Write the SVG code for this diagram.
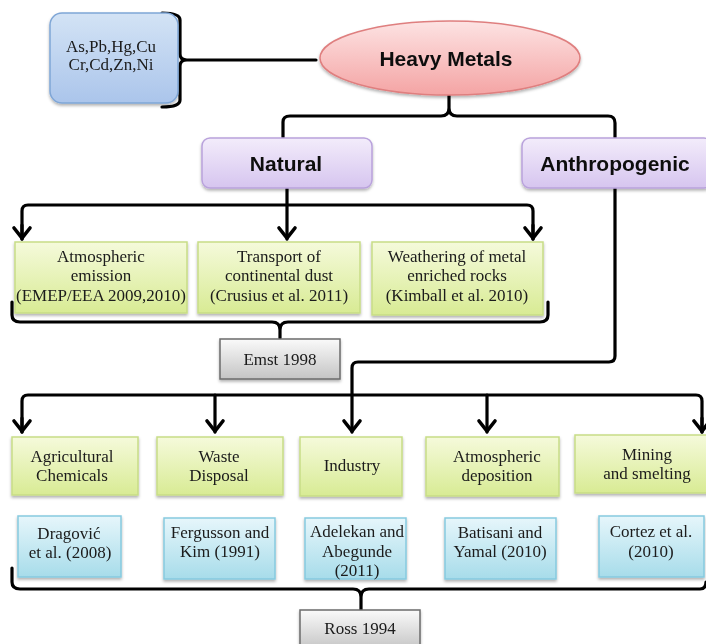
<svg xmlns="http://www.w3.org/2000/svg" width="706" height="644" viewBox="0 0 706 644">
<style>
.s{font-family:"Liberation Serif","Times New Roman",serif;font-size:17px;fill:#1a1a1a;text-anchor:middle}
.b{font-family:"Liberation Sans",Arial,sans-serif;font-size:21px;font-weight:bold;fill:#111;text-anchor:middle}
.c{fill:none;stroke:#000;stroke-width:3.2;stroke-linejoin:round;stroke-linecap:round}
.green{fill:url(#gG);stroke:#c7dd86;stroke-width:1.5}
.blue{fill:url(#gB);stroke:#86cadf;stroke-width:1.5}
.gray{fill:url(#gR);stroke:#6b6b6b;stroke-width:1.5}
.purple{fill:url(#gP);stroke:#b9a2dc;stroke-width:1.5}
</style>
<defs>
<linearGradient id="gG" x1="0" y1="0" x2="0" y2="1"><stop offset="0" stop-color="#f5fadb"/><stop offset="1" stop-color="#d8eb94"/></linearGradient>
<linearGradient id="gB" x1="0" y1="0" x2="0" y2="1"><stop offset="0" stop-color="#e6f6fb"/><stop offset="1" stop-color="#a7dcea"/></linearGradient>
<linearGradient id="gR" x1="0" y1="0" x2="0" y2="1"><stop offset="0" stop-color="#fafafa"/><stop offset="1" stop-color="#c4c4c4"/></linearGradient>
<linearGradient id="gP" x1="0" y1="0" x2="0" y2="1"><stop offset="0" stop-color="#f3ecfb"/><stop offset="1" stop-color="#d6c5ef"/></linearGradient>
<linearGradient id="gM" x1="0" y1="0" x2="0" y2="1"><stop offset="0" stop-color="#d3e3f5"/><stop offset="1" stop-color="#abc5eb"/></linearGradient>
<linearGradient id="gE" x1="0" y1="0" x2="0" y2="1"><stop offset="0" stop-color="#fde3e3"/><stop offset="1" stop-color="#f4a4a4"/></linearGradient>
<filter id="sh" x="-10%" y="-10%" width="130%" height="140%"><feDropShadow dx="0" dy="2" stdDeviation="1.5" flood-color="#000" flood-opacity="0.3"/></filter>
<marker id="ar" markerUnits="userSpaceOnUse" markerWidth="30" markerHeight="30" viewBox="-15 -15 30 30" refX="0" refY="0" orient="auto">
<path d="M-11,-8 L-1,0 L-11,8" fill="none" stroke="#000" stroke-width="3.6" stroke-linecap="round" stroke-linejoin="miter"/>
</marker>
</defs>

<g id="connectors">
<path class="c" d="M162,13 Q180,13 180,20 L180,54 Q180,60 187,60 L316,60 M187,60 Q180,60 180,66 L180,100 Q180,107 162,107"/>
<path class="c" d="M283,138 L283,122 Q283,116 290,116 L441,116 Q449,116 449,108 L449,95 M449,108 Q449,116 457,116 L608,116 Q615,116 615,123 L615,138"/>
<path class="c" d="M287,188 L287,239" marker-end="url(#ar)"/>
<path class="c" d="M22,239 L22,211 Q22,205 28,205 L527,205 Q533,205 533,211 L533,239"/>
<path class="c" d="M22,225 L22,239" marker-end="url(#ar)"/>
<path class="c" d="M533,225 L533,239" marker-end="url(#ar)"/>
<path class="c" d="M12,302 L12,315 Q12,322 20,322 L272,322 Q280,322 280,330 L280,338 M280,330 Q280,322 288,322 L540,322 Q548,322 548,315 L548,302"/>
<path class="c" d="M615,188 L615,356 Q615,362 609,362 L358,362 Q352,362 352,368 L352,432" marker-end="url(#ar)"/>
<path class="c" d="M22,432 L22,401 Q22,395 28,395 L696,395 Q702,395 702,401 L702,432"/>
<path class="c" d="M22,418 L22,432" marker-end="url(#ar)"/>
<path class="c" d="M702,418 L702,432" marker-end="url(#ar)"/>
<path class="c" d="M215,395 L215,432" marker-end="url(#ar)"/>
<path class="c" d="M487,395 L487,432" marker-end="url(#ar)"/>
<path class="c" d="M12,568 L12,582 Q12,589 20,589 L353,589 Q361,589 361,597 L361,610 M361,597 Q361,589 369,589 L700,589 Q706,589 706,582"/>
</g>

<g id="metals" filter="url(#sh)">
<rect x="50" y="13" width="128" height="90" rx="12" fill="url(#gM)" stroke="#7fa6d6" stroke-width="1.5"/>
<text class="s" x="111" y="52">As,Pb,Hg,Cu</text>
<text class="s" x="111" y="70">Cr,Cd,Zn,Ni</text>
</g>

<g id="heavy-metals" filter="url(#sh)">
<ellipse cx="450" cy="58" rx="130" ry="37" fill="url(#gE)" stroke="#df7f7f" stroke-width="1.5"/>
<text class="b" x="446" y="66">Heavy Metals</text>
</g>

<g id="natural" filter="url(#sh)">
<rect class="purple" x="202" y="138" width="170" height="50" rx="8"/>
<text class="b" x="286" y="171">Natural</text>
</g>

<g id="anthropogenic" filter="url(#sh)">
<rect class="purple" x="522" y="138" width="190" height="50" rx="8"/>
<text class="b" x="615" y="171">Anthropogenic</text>
</g>

<g id="atm-emission" filter="url(#sh)">
<rect class="green" x="15" y="242" width="172" height="71"/>
<text class="s" x="101" y="262">Atmospheric</text>
<text class="s" x="101" y="281">emission</text>
<text class="s" x="101" y="301">(EMEP/EEA 2009,2010)</text>
</g>

<g id="transport" filter="url(#sh)">
<rect class="green" x="198" y="242" width="162" height="71"/>
<text class="s" x="279" y="262">Transport of</text>
<text class="s" x="279" y="281">continental dust</text>
<text class="s" x="279" y="301">(Crusius et al. 2011)</text>
</g>

<g id="weathering" filter="url(#sh)">
<rect class="green" x="372" y="242" width="171" height="73"/>
<text class="s" x="457" y="262">Weathering of metal</text>
<text class="s" x="457" y="281">enriched rocks</text>
<text class="s" x="457" y="301">(Kimball et al. 2010)</text>
</g>

<g id="emst" filter="url(#sh)">
<rect class="gray" x="220" y="339" width="120" height="40"/>
<text class="s" x="280" y="365">Emst 1998</text>
</g>

<g id="agri" filter="url(#sh)">
<rect class="green" x="12" y="437" width="126" height="58"/>
<text class="s" x="72" y="462">Agricultural</text>
<text class="s" x="72" y="481">Chemicals</text>
</g>

<g id="waste" filter="url(#sh)">
<rect class="green" x="157" y="437" width="126" height="58"/>
<text class="s" x="219" y="462">Waste</text>
<text class="s" x="219" y="481">Disposal</text>
</g>

<g id="industry" filter="url(#sh)">
<rect class="green" x="300" y="437" width="102" height="59"/>
<text class="s" x="352" y="471">Industry</text>
</g>

<g id="atm-deposition" filter="url(#sh)">
<rect class="green" x="426" y="437" width="133" height="59"/>
<text class="s" x="497" y="462">Atmospheric</text>
<text class="s" x="497" y="481">deposition</text>
</g>

<g id="mining" filter="url(#sh)">
<rect class="green" x="575" y="435" width="145" height="58"/>
<text class="s" x="647" y="460">Mining</text>
<text class="s" x="647" y="479">and smelting</text>
</g>

<g id="ref-dragovic" filter="url(#sh)">
<rect class="blue" x="18" y="516" width="103" height="61"/>
<text class="s" x="69" y="539">Dragović</text>
<text class="s" x="70" y="558">et al. (2008)</text>
</g>

<g id="ref-fergusson" filter="url(#sh)">
<rect class="blue" x="164" y="518" width="111" height="61"/>
<text class="s" x="220" y="538">Fergusson and</text>
<text class="s" x="220" y="557">Kim (1991)</text>
</g>

<g id="ref-adelekan" filter="url(#sh)">
<rect class="blue" x="305" y="518" width="101" height="61"/>
<text class="s" x="357" y="537">Adelekan and</text>
<text class="s" x="357" y="557">Abegunde</text>
<text class="s" x="357" y="576">(2011)</text>
</g>

<g id="ref-batisani" filter="url(#sh)">
<rect class="blue" x="445" y="518" width="111" height="61"/>
<text class="s" x="500" y="538">Batisani and</text>
<text class="s" x="500" y="557">Yamal (2010)</text>
</g>

<g id="ref-cortez" filter="url(#sh)">
<rect class="blue" x="599" y="516" width="105" height="61"/>
<text class="s" x="651" y="537">Cortez et al.</text>
<text class="s" x="651" y="557">(2010)</text>
</g>

<g id="ross" filter="url(#sh)">
<rect class="gray" x="300" y="610" width="120" height="40"/>
<text class="s" x="360" y="634">Ross 1994</text>
</g>
</svg>
